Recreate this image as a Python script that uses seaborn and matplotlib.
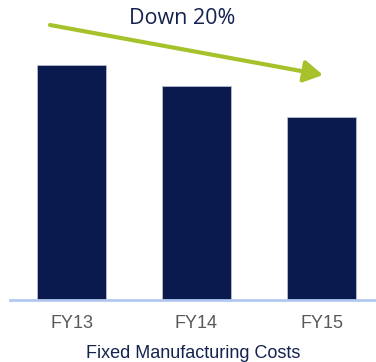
import matplotlib
matplotlib.use("Agg")
import matplotlib.pyplot as plt
import seaborn as sns
import pandas as pd

years = ["FY13", "FY14", "FY15"]
costs = [100, 91, 78]
axis_title = "Fixed Manufacturing Costs"
trend_label = "Down 20%"

bar_color = "#0b1a4e"
arrow_color = "#a6c22b"
navy_text = "#14224f"
tick_gray = "#595959"
baseline_color = "#b3c8f0"

sns.set_style("white")
plt.rcParams["font.family"] = ["Liberation Sans", "DejaVu Sans"]

df = pd.DataFrame({"year": years, "cost": costs})

W, H = 376, 362
fig = plt.figure(figsize=(W / 100, H / 100), dpi=100)
ax = fig.add_axes([10 / W, 62 / H, (W - 10) / W, 300 / H])

sns.barplot(data=df, x="year", y="cost", color=bar_color, width=0.55,
            saturation=1, edgecolor="#b9bdcc", linewidth=0.6, ax=ax)

ax.set_xlim(-0.492, 2.436)
ax.set_ylim(0, 300 / 235 * 100)
for side in ["left", "right", "top"]:
    ax.spines[side].set_visible(False)
ax.spines["bottom"].set_color(baseline_color)
ax.spines["bottom"].set_linewidth(2)
ax.set_yticks([])
ax.tick_params(axis="x", length=0, pad=11, labelsize=13, labelcolor=tick_gray)
ax.set_xlabel(axis_title, fontsize=13, color=navy_text, labelpad=9)
ax.set_ylabel("")

# trend arrow and its caption above the bars
ax.annotate("", xy=(323, H - 75), xycoords="figure pixels",
            xytext=(50, H - 25), textcoords="figure pixels",
            arrowprops=dict(arrowstyle="-|>,head_length=0.95,head_width=0.55",
                            mutation_scale=12, lw=3, color=arrow_color,
                            shrinkA=0, shrinkB=0),
            annotation_clip=False)
fig.text(182 / W, (H - 18) / H, trend_label, ha="center", va="center",
         fontsize=15.5, color=navy_text, family=["Open Sans", "DejaVu Sans"])

fig.savefig("out.png", dpi=100)
